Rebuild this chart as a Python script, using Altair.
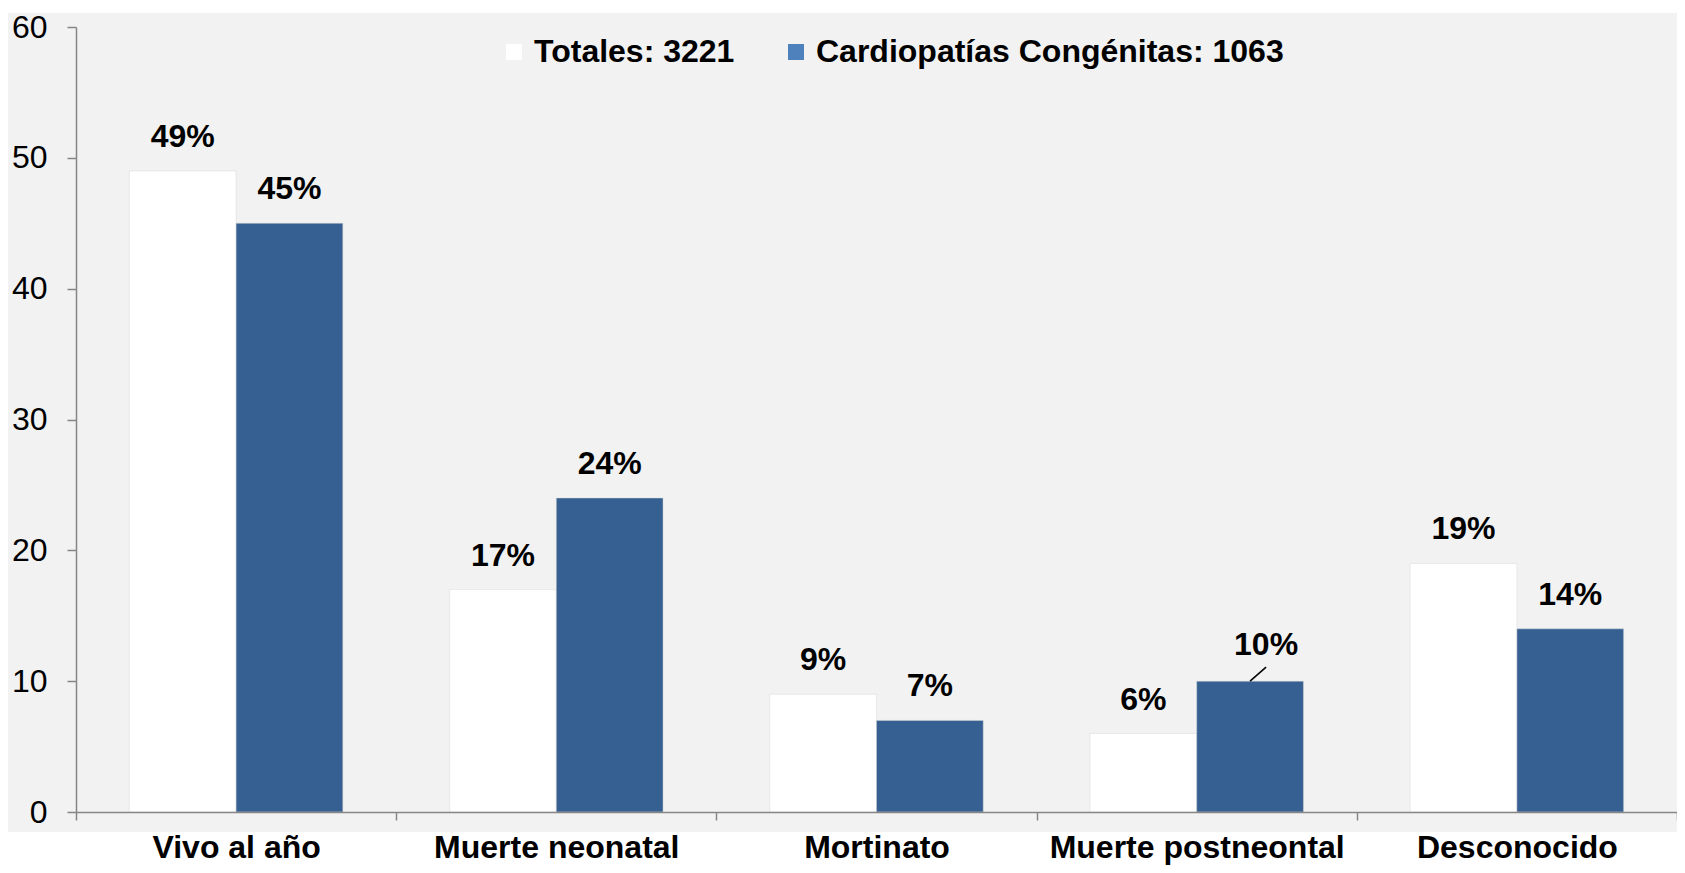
import altair as alt
import pandas as pd

categories = ["Vivo al año", "Muerte neonatal", "Mortinato", "Muerte postneontal", "Desconocido"]
series = ["Totales: 3221", "Cardiopatías Congénitas: 1063"]
totales = [49, 17, 9, 6, 19]
cardio = [45, 24, 7, 10, 14]
labels_tot = ["49%", "17%", "9%", "6%", "19%"]
labels_car = ["45%", "24%", "7%", "10%", "14%"]
y_ticks = [0, 10, 20, 30, 40, 50, 60]
bar_colors = ["#ffffff", "#376092"]
legend_colors = ["#ffffff", "#4f81bd"]

rows = []
for i, c in enumerate(categories):
    rows.append({"cat": c, "serie": series[0], "valor": totales[i],
                 "etiqueta": labels_tot[i], "leader": False})
    rows.append({"cat": c, "serie": series[1], "valor": cardio[i],
                 "etiqueta": labels_car[i], "leader": c == "Muerte postneontal"})
df = pd.DataFrame(rows)

W, H = 1601, 785
FONT = "Liberation Sans"
AX = "#868686"

x_enc = alt.X(
    "cat:N", sort=categories, title=None,
    scale=alt.Scale(paddingInner=0, paddingOuter=0),
    axis=alt.Axis(labelAngle=0, labelFont=FONT, labelFontSize=32, labelFontWeight="bold",
                  labelColor="#000000", labelBaseline="alphabetic", labelPadding=37,
                  tickSize=8, tickBand="extent", tickColor=AX, tickWidth=1.5,
                  domainColor=AX, domainWidth=1.5, labelLimit=600, labelOverlap=False,
                  grid=False, zindex=1),
)
xo_enc = alt.XOffset("serie:N", sort=series,
                     scale=alt.Scale(paddingInner=0, paddingOuter=0.5))
y_enc = alt.Y(
    "valor:Q", title=None,
    scale=alt.Scale(domain=[0, 60], nice=False),
    axis=alt.Axis(values=y_ticks, grid=False, tickSize=9, tickColor=AX, tickWidth=1.5,
                  domainColor=AX, domainWidth=1.5, labelFont=FONT, labelFontSize=32,
                  labelColor="#000000", labelPadding=20, zindex=1),
)

bg = alt.Chart(pd.DataFrame({"k": [0]})).mark_rect(fill="#f2f2f2", clip=False).encode(
    x=alt.value(-68), x2=alt.value(W + 8), y=alt.value(-14), y2=alt.value(H + 20)
)

base = alt.Chart(df)

bars = base.mark_bar(stroke="#d8d8d8", strokeWidth=0.6, strokeOpacity=0.8).encode(
    x=x_enc, xOffset=xo_enc, y=y_enc,
    color=alt.Color("serie:N", sort=series,
                    scale=alt.Scale(domain=series, range=bar_colors), legend=None),
)

texts = base.mark_text(font=FONT, fontSize=32, fontWeight="bold", baseline="alphabetic",
                       dy=-24, color="#000000").encode(
    x=x_enc, xOffset=xo_enc, y=y_enc, text="etiqueta:N"
).transform_filter("!datum.leader")

text10 = base.mark_text(font=FONT, fontSize=32, fontWeight="bold", baseline="alphabetic",
                        dx=16, dy=-26, color="#000000").encode(
    x=x_enc, xOffset=xo_enc, y=y_enc, text="etiqueta:N"
).transform_filter("datum.leader")

leader = base.mark_point(shape="M0,0L2,-1.75", size=256, filled=False, color="#000000",
                         stroke="#000000", strokeWidth=1.5, opacity=1).encode(
    x=x_enc, xOffset=xo_enc, y=y_enc
).transform_filter("datum.leader")

legend_layer = base.mark_square(size=0, opacity=1).encode(
    color=alt.Color("serie:N", sort=series,
                    scale=alt.Scale(domain=series, range=legend_colors),
                    legend=alt.Legend(orient="none", legendX=422, legendY=9,
                                      direction="horizontal", title=None,
                                      symbolType="square", symbolSize=256,
                                      symbolStrokeWidth=0, symbolOpacity=1,
                                      labelFont=FONT, labelFontSize=32,
                                      labelFontWeight="bold", labelColor="#000000",
                                      labelOffset=4, columnPadding=45, padding=0,
                                      labelLimit=800))
)

chart = alt.layer(bg, bars, texts, text10, leader, legend_layer).resolve_scale(
    color="independent"
).properties(
    width=W, height=H,
    autosize=alt.AutoSizeParams(type="none"),
    padding={"left": 68, "top": 19, "right": 0, "bottom": 53},
).configure_view(stroke=None).configure(background="white")

chart.save("out.html", embed_options={"renderer": "svg", "actions": False})
